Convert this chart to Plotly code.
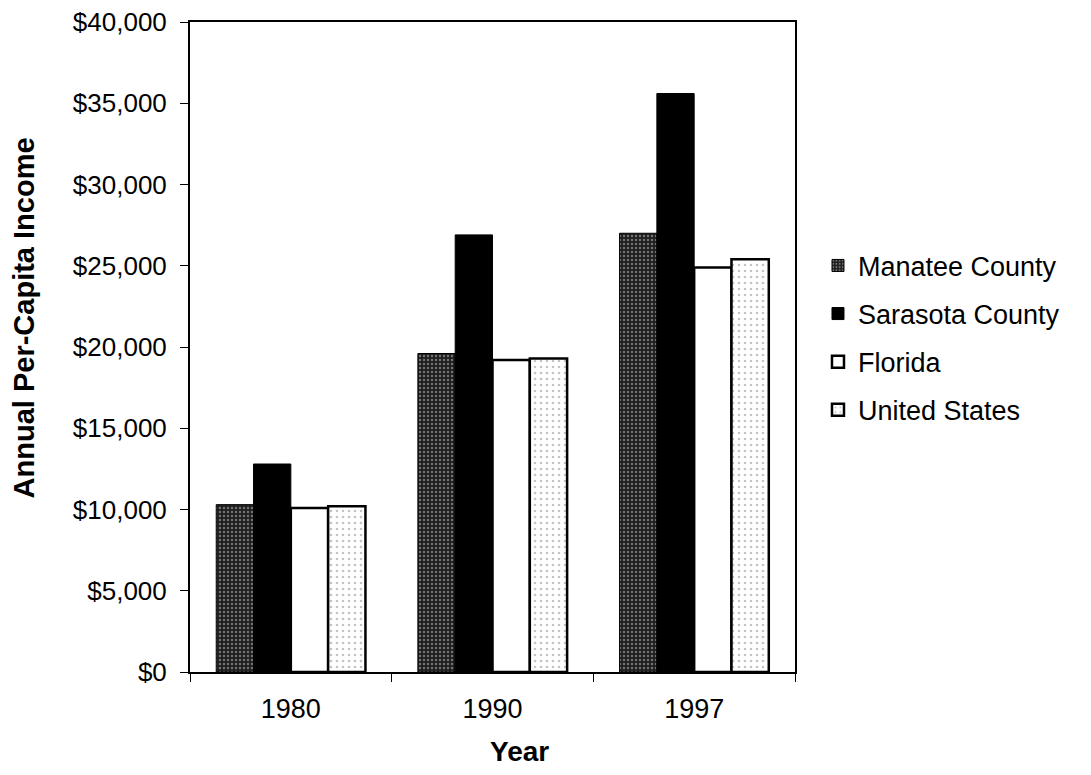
import plotly.graph_objects as go

years = ["1980", "1990", "1997"]
manatee = [10300, 19600, 27000]
sarasota = [12800, 26900, 35600]
florida = [10100, 19200, 24900]
united_states = [10200, 19300, 25400]
series_names = ["Manatee County", "Sarasota County", "Florida", "United States"]
y_ticks = [0, 5000, 10000, 15000, 20000, 25000, 30000, 35000, 40000]
y_tick_labels = ["$0", "$5,000", "$10,000", "$15,000", "$20,000", "$25,000", "$30,000", "$35,000", "$40,000"]

FONT = "Liberation Sans, Arial, sans-serif"

fig = go.Figure()
styles = [
    dict(color="#2a2a2a", line=dict(color="black", width=1),
         pattern=dict(shape=".", fgcolor="#c8c8c8", bgcolor="#1e1e1e", size=4, solidity=0.3)),
    dict(color="black", line=dict(color="black", width=1)),
    dict(color="white", line=dict(color="black", width=2.5)),
    dict(color="white", line=dict(color="black", width=2.5),
         pattern=dict(shape=".", fgcolor="#8a8a8a", bgcolor="white", size=6, solidity=0.15)),
]
for i, (name, vals, st) in enumerate(zip(series_names, [manatee, sarasota, florida, united_states], styles)):
    fig.add_trace(go.Bar(x=years, y=vals, name=name, marker=st, legendgroup=f"g{i}"))

W, H = 1075, 759
fig.update_layout(
    width=W, height=H,
    margin=dict(l=182, r=W - 787, t=14, b=H - 664, autoexpand=False),
    paper_bgcolor="white", plot_bgcolor="white",
    barmode="group", bargap=0.26, bargroupgap=0,
    font=dict(family=FONT, size=26, color="black"),
    legend=dict(x=1.038, y=0.514, xanchor="left", yanchor="middle",
                font=dict(size=27, family=FONT), traceorder="grouped",
                tracegroupgap=10, bgcolor="rgba(0,0,0,0)"),
    showlegend=True,
    annotations=[
        dict(text="<b>Annual Per-Capita Income</b>", textangle=-90,
             xref="paper", yref="paper", x=-0.275, y=0.545,
             xanchor="center", yanchor="middle", showarrow=False,
             font=dict(size=29, family=FONT, color="black")),
        dict(text="<b>Year</b>",
             xref="paper", yref="paper", x=0.544, y=-0.122,
             xanchor="center", yanchor="middle", showarrow=False,
             font=dict(size=28, family=FONT, color="black")),
    ],
)
fig.update_xaxes(
    showline=True, linecolor="black", linewidth=2, mirror=True,
    ticks="outside", tickson="boundaries", ticklen=8, tickcolor="black",
    tickfont=dict(size=27), ticklabelstandoff=12, showgrid=False,
)
fig.update_yaxes(
    range=[0, 40000], tickvals=y_ticks, ticktext=y_tick_labels,
    showline=True, linecolor="black", linewidth=2, mirror=True,
    ticks="outside", ticklen=8, tickcolor="black", ticklabeloverflow="allow",
    tickfont=dict(size=26), ticklabelstandoff=8, showgrid=False, zeroline=False,
)
fig.write_html("out.html")
